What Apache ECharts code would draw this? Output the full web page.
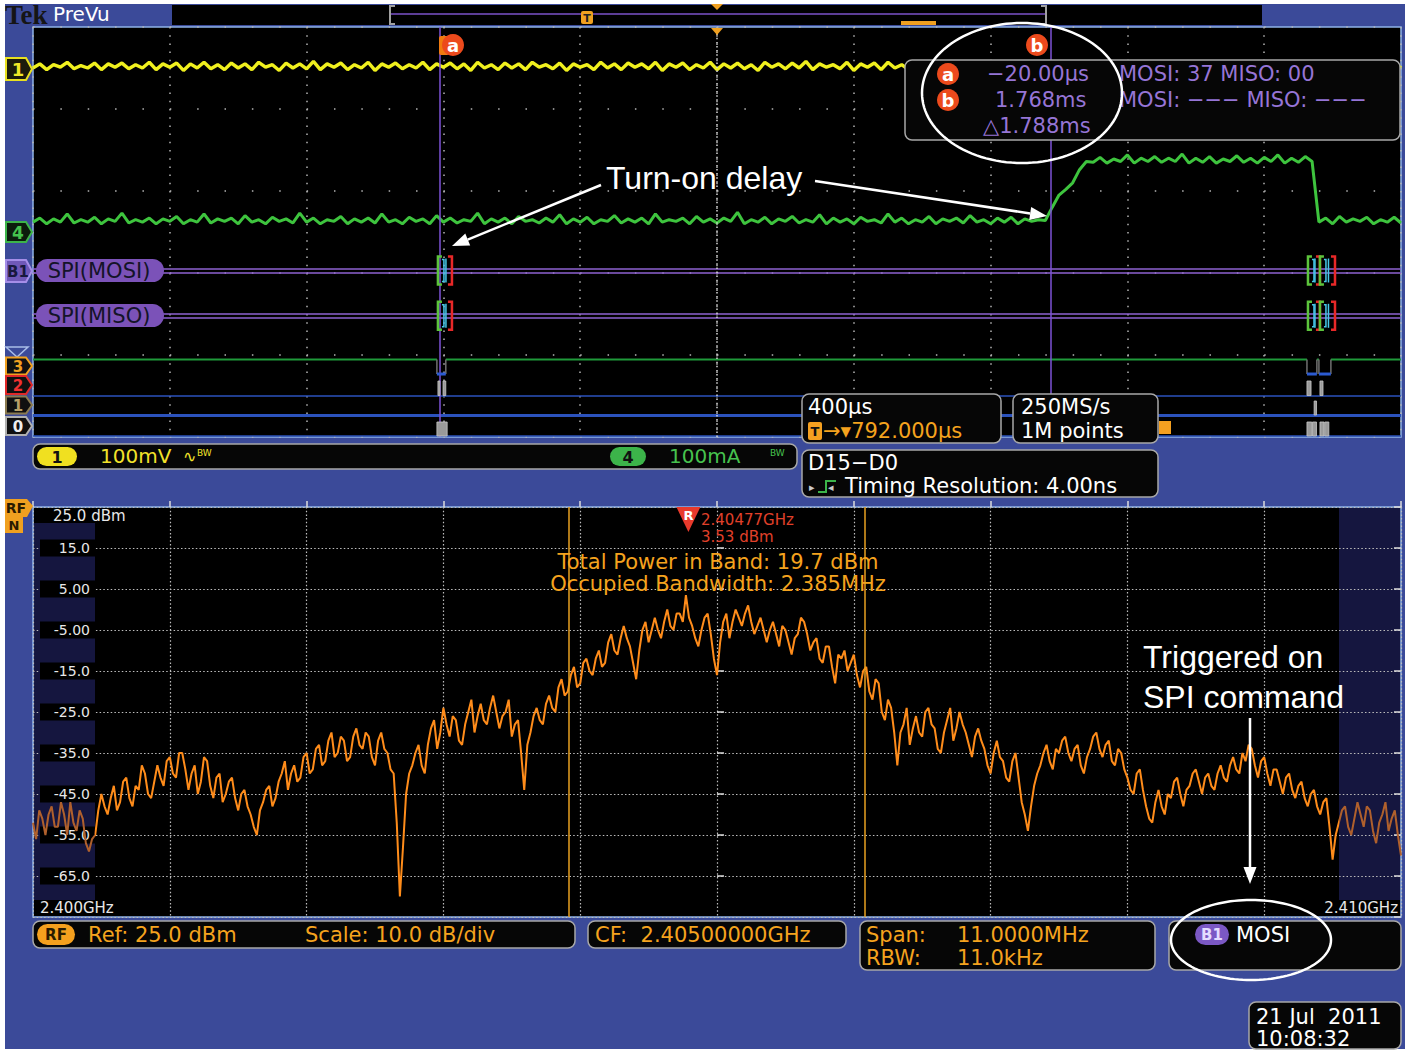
<!DOCTYPE html>
<html><head><meta charset="utf-8">
<script src="https://cdn.jsdelivr.net/npm/echarts@6/dist/echarts.min.js"></script>
<style>html,body{margin:0;padding:0;background:#fff;}#c{width:1411px;height:1052px;}</style>
</head><body><div id="c"></div><script>
// ---------------- DATA ----------------
const usPerDiv = 400;            // horizontal scale 400 µs/div
const screenStartUs = -1208;     // time at the left edge of the time-domain view
const sampleStepDiv = 0.05;      // trace sample spacing (divisions)
// Channel 1 (yellow), vertical position in divisions
const ch1Trace = [
4.50,4.55,4.48,4.54,4.51,4.57,4.49,4.53,4.50,4.56,
4.48,4.55,4.51,4.56,4.49,4.54,4.50,4.57,4.48,4.55,
4.51,4.56,4.47,4.55,4.50,4.57,4.49,4.54,4.48,4.56,
4.50,4.55,4.48,4.57,4.51,4.54,4.47,4.56,4.50,4.55,
4.49,4.58,4.48,4.55,4.51,4.56,4.48,4.54,4.50,4.57,
4.47,4.55,4.51,4.56,4.49,4.54,4.50,4.57,4.48,4.55,
4.51,4.56,4.49,4.55,4.47,4.57,4.50,4.54,4.48,4.56,
4.50,4.55,4.48,4.57,4.51,4.54,4.49,4.56,4.47,4.55,
4.51,4.54,4.48,4.57,4.50,4.55,4.48,4.56,4.51,4.55,
4.49,4.57,4.47,4.55,4.51,4.56,4.48,4.54,4.50,4.57,
4.48,4.55,4.50,4.56,4.49,4.54,4.47,4.57,4.51,4.55,
4.49,4.56,4.50,4.58,4.48,4.55,4.51,4.54,4.49,4.57,
4.47,4.55,4.51,4.56,4.48,4.57,4.50,4.54,4.48,4.56,
4.51,4.57,4.49,4.55,4.47,4.56,4.51,4.55,4.48,4.57,
4.50,4.55,4.48,4.56,4.51,4.54,4.49,4.57,4.47,4.55,
4.51,4.56,4.48,4.55,4.50,4.57,4.48,4.54,4.51,4.56,
4.49,4.55,4.47,4.57,4.51,4.55,4.48,4.56,4.50,4.54,
4.48,4.57,4.51,4.55,4.49,4.56,4.47,4.55,4.51,4.57,
4.48,4.54,4.50,4.56,4.48,4.57,4.51,4.55,4.49,4.56,
4.47,4.57,4.51,4.54,4.48,4.56,4.50,4.55,4.48,4.57,
4.50];
// Channel 4 (green, current), vertical position in divisions
const ch4Trace = [
2.62,2.67,2.60,2.66,2.62,2.72,2.61,2.65,2.62,2.68,
2.60,2.66,2.63,2.73,2.61,2.65,2.62,2.67,2.60,2.66,
2.63,2.69,2.60,2.65,2.62,2.72,2.61,2.66,2.63,2.67,
2.60,2.70,2.62,2.65,2.60,2.68,2.63,2.66,2.61,2.73,
2.62,2.67,2.60,2.65,2.63,2.69,2.60,2.66,2.62,2.67,
2.61,2.72,2.62,2.65,2.60,2.68,2.63,2.66,2.60,2.70,
2.62,2.67,2.61,2.65,2.63,2.73,2.60,2.66,2.62,2.67,
2.60,2.69,2.63,2.65,2.61,2.67,2.62,2.71,2.60,2.66,
2.62,2.68,2.60,2.65,2.63,2.70,2.61,2.66,2.62,2.67,
2.60,2.72,2.62,2.65,2.63,2.67,2.60,2.69,2.62,2.66,
2.61,2.67,2.63,2.74,2.60,2.65,2.62,2.68,2.60,2.66,
2.63,2.69,2.61,2.65,2.62,2.71,2.60,2.67,2.62,2.66,
2.60,2.68,2.63,2.65,2.61,2.72,2.62,2.67,2.60,2.65,
2.62,2.69,2.60,2.66,2.63,2.67,2.61,2.70,2.62,2.65,
2.60,2.67,2.62,2.68,2.60,2.66,2.63,2.65,
2.64,2.80,2.95,3.02,3.10,3.26,3.36,
3.35,3.41,3.34,3.39,3.36,3.44,3.34,3.40,3.36,3.42,
3.35,3.40,3.36,3.45,3.34,3.40,3.35,3.42,3.34,3.39,
3.36,3.43,3.35,3.40,3.34,3.41,3.36,3.44,3.34,3.40,
3.35,3.42,3.36,
2.62,2.67,2.60,2.69,2.62,2.66,2.63,2.68,2.60,2.65,2.62,2.68,2.61];
const cursorAUs = -20;
const cursorBUs = 1768;
// SPI bus double-line levels (divisions) and decoded packets (µs)
const mosiLevels = [2.055, 2.006];
const misoLevels = [1.502, 1.454];
const busPacketsUs = [[-24, 17], [2520, 2555], [2555, 2599]];
// digital channels (µs)
const d3LowPulsesUs = [[-27, -1], [2517, 2546], [2552, 2587]];
const d2HighPulsesUs = [[-24, -18], [-9, -1], [2517, 2529], [2555, 2564]];
const d1HighPulsesUs = [[2538, 2545]];
const d0HighPulsesUs = [[-27, 3], [2517, 2531], [2533, 2545], [2555, 2567], [2569, 2581]];
const digLevels = {d3High: 0.945, d3Low: 0.768, d2High: 0.683, d2Low: 0.506, d1High: 0.439, d1Low: 0.268, d0High: 0.183, d0Low: 0.012};

// Spectrum: offset from CF (MHz) and level (dBm)
const specStartMHz = -5.5;
const specStepMHz = 0.025;
const spectrumDbm = [
-52,-56,-49,-51,-55,-50,-48,-53,-53,-47,-50,-55,-47,-52,-54,-49,-51,-57,-59,-56,
-55,-49,-45,-48,-50,-46,-43,-49,-47,-42,-41,-46,-48,-43,-44,-38,-40,-45,-46,-42,
-38,-41,-43,-37,-36,-40,-41,-35,-35,-39,-44,-40,-38,-45,-42,-36,-37,-43,-46,-41,
-40,-47,-45,-42,-41,-46,-49,-45,-44,-48,-50,-53,-55,-49,-47,-44,-43,-48,-46,-42,
-40,-37,-44,-40,-38,-42,-41,-36,-35,-40,-39,-34,-33,-38,-37,-32,-30,-36,-35,-31,
-32,-37,-36,-31,-29,-33,-34,-30,-31,-36,-38,-32,-30,-34,-35,-39,-40,-52,-70,-58,
-45,-40,-38,-35,-33,-38,-40,-33,-29,-27,-34,-30,-24,-28,-31,-26,-27,-32,-33,-28,
-25,-22,-30,-26,-23,-27,-28,-24,-21,-25,-29,-26,-25,-22,-31,-28,-27,-35,-44,-33,
-30,-26,-24,-27,-28,-23,-21,-24,-25,-19,-17,-21,-20,-16,-14,-19,-18,-13,-12,-15,
-16,-12,-10,-14,-13,-8,-6,-10,-11,-7,-4,-7,-9,-13,-17,-10,-5,-3,-8,-5,
-2,-5,-7,-3,0,-4,-5,-1,-1,-3,3.53,-2,-4,-7,-9,-5,-2,-1,-6,-12,
-16,-8,-3,-1,-7,-3,0,-2,-4,-1,1,-3,-6,-4,-2,-5,-8,-5,-3,-6,
-9,-4,-5,-8,-11,-7,-6,-2,-3,-6,-10,-8,-7,-12,-13,-9,-9,-14,-18,-11,
-12,-10,-15,-13,-11,-16,-19,-15,-14,-20,-22,-17,-18,-25,-27,-22,-24,-30,-38,-30,
-28,-24,-33,-29,-26,-30,-31,-25,-24,-28,-29,-34,-35,-30,-27,-24,-32,-29,-25,-28,
-30,-33,-36,-31,-29,-32,-34,-38,-40,-35,-32,-36,-37,-41,-42,-37,-35,-41,-47,-50,
-54,-48,-43,-40,-38,-35,-33,-37,-39,-34,-35,-32,-31,-35,-37,-34,-33,-38,-40,-36,
-34,-31,-30,-34,-36,-33,-32,-37,-38,-34,-35,-39,-41,-44,-45,-40,-39,-44,-48,-51,
-52,-47,-44,-48,-50,-45,-46,-42,-41,-45,-48,-44,-43,-40,-39,-42,-45,-41,-40,-43,
-44,-40,-38,-41,-42,-38,-36,-39,-40,-35,-37,-33,-34,-38,-41,-37,-36,-40,-43,-39,
-39,-42,-45,-41,-40,-44,-46,-43,-42,-46,-48,-45,-44,-48,-50,-47,-46,-53,-61,-55,
-52,-49,-48,-53,-55,-51,-47,-50,-53,-48,-49,-54,-57,-52,-50,-47,-54,-51,-49,-55,
-60];
const refDbm = 25;
const dbmTickLabels = ['15.0','5.00','-5.00','-15.0','-25.0','-35.0','-45.0','-55.0','-65.0'];
const obwMHz = 2.385;
const markerOffsetMHz = -0.23;

// ---------------- HELPERS ----------------
const usToDiv = t => (t - screenStartUs) / usPerDiv;
const FONT = '"DejaVu Sans", sans-serif';
const HEL = '"Liberation Sans", Arial, sans-serif';
function T(x, y, text, color, size, o) {
  o = o || {};
  return {type:'text', x:x, y:y, z:o.z || 120, silent:true,
    style:{text:text, fill:color, font:(o.weight||'normal')+' '+size+'px '+(o.family||FONT),
      textAlign:o.align||'left', textVerticalAlign:'middle', align:o.align||'left', verticalAlign:'middle'}};
}
function box(x, y, w, h, z) {
  return {type:'rect', z:z||90, silent:true, shape:{x:x,y:y,width:w,height:h,r:7}, style:{fill:'#060606', stroke:'#a8a8a8', lineWidth:1.5}};
}
function pill(x, y, w, h, fill, label, tc, size) {
  return [{type:'rect', z:110, silent:true, shape:{x:x,y:y,width:w,height:h,r:h/2}, style:{fill:fill}},
    T(x+w/2, y+h/2+0.5, label, tc, size, {align:'center', weight:'bold', z:111})];
}
function ellipse(cx, cy, rx, ry) {
  const pts = [];
  for (let k = 0; k < 120; k++) { const a = k/120*2*Math.PI; pts.push([cx+rx*Math.cos(a), cy+ry*Math.sin(a)]); }
  return {type:'polygon', z:130, silent:true, shape:{points:pts}, style:{fill:null, stroke:'#fff', lineWidth:2.5}};
}
function arrow(x1, y1, x2, y2) {
  const a = Math.atan2(y2-y1, x2-x1), L = 17, W = 6.5;
  const bx = x2 - L*Math.cos(a), by = y2 - L*Math.sin(a);
  const px = -Math.sin(a)*W, py = Math.cos(a)*W;
  return [{type:'line', z:130, silent:true, shape:{x1:x1,y1:y1,x2:bx,y2:by}, style:{stroke:'#fff', lineWidth:2.5}},
    {type:'polygon', z:130, silent:true, shape:{points:[[x2,y2],[bx+px,by+py],[bx-px,by-py]]}, style:{fill:'#fff'}}];
}
function chLabel(y, h, text, stroke, fill, tc, size) {
  return [{type:'polygon', z:110, silent:true, shape:{points:[[6,y-h/2],[26,y-h/2],[32,y],[26,y+h/2],[6,y+h/2]]}, style:{fill:fill, stroke:stroke, lineWidth:2}},
    T(18, y+0.5, text, tc, size, {align:'center', weight:'bold', z:111})];
}
function cursorBadge(cx, cy, letter) {
  return [{type:'circle', z:115, silent:true, shape:{cx:cx, cy:cy, r:11}, style:{fill:'#ec4a1c'}},
    T(cx, cy, letter, '#fff', 18, {align:'center', weight:'bold', z:116})];
}

// ---------------- SERIES DATA ----------------
const ch1Data = ch1Trace.map((v, i) => [i*sampleStepDiv, v]);
const ch4Data = ch4Trace.map((v, i) => [i*sampleStepDiv, v]);
const busLines = [];
mosiLevels.concat(misoLevels).forEach(l => busLines.push({coords:[[0, l], [10, l]]}));
const busPackets = [];
busPacketsUs.forEach(p => {
  busPackets.push([usToDiv(p[0]), usToDiv(p[1]), (mosiLevels[0]+mosiLevels[1])/2]);
  busPackets.push([usToDiv(p[0]), usToDiv(p[1]), (misoLevels[0]+misoLevels[1])/2]);
});
const d3HighLine = [[0, digLevels.d3High]];
d3LowPulsesUs.forEach(p => { d3HighLine.push([usToDiv(p[0]), digLevels.d3High]); d3HighLine.push([usToDiv(p[0]), '-']); d3HighLine.push([usToDiv(p[1]), digLevels.d3High]); });
d3HighLine.push([10, digLevels.d3High]);
const digItems = [];
d3LowPulsesUs.forEach(p => digItems.push([usToDiv(p[0]), usToDiv(p[1]), 0]));
d2HighPulsesUs.forEach(p => digItems.push([usToDiv(p[0]), usToDiv(p[1]), 1]));
d1HighPulsesUs.forEach(p => digItems.push([usToDiv(p[0]), usToDiv(p[1]), 2]));
d0HighPulsesUs.forEach(p => digItems.push([usToDiv(p[0]), usToDiv(p[1]), 3]));
const digLowLines = [
  {coords:[[0, digLevels.d2Low],[10, digLevels.d2Low]], lineStyle:{width:1.5}},
  {coords:[[0, digLevels.d1Low],[10, digLevels.d1Low]], lineStyle:{width:3}},
  {coords:[[0, digLevels.d0Low],[10, digLevels.d0Low]], lineStyle:{width:1.5}}
];
const specData = spectrumDbm.map((v, i) => [specStartMHz + i*specStepMHz, refDbm - v]);

// ---------------- GRAPHICS ----------------
const G = [];
G.push({type:'rect', z:-30, silent:true, shape:{x:5,y:4,width:1400,height:1045}, style:{fill:'#3b4a99'}});
G.push({type:'rect', z:-25, silent:true, shape:{x:172,y:5,width:1090,height:20}, style:{fill:'#000'}});
G.push({type:'rect', z:-20, silent:true, shape:{x:33,y:27,width:1368,height:410}, style:{fill:'#000'}});
G.push({type:'rect', z:-20, silent:true, shape:{x:33,y:507,width:1368,height:410}, style:{fill:'#000'}});
G.push({type:'rect', z:-15, silent:true, shape:{x:33,y:507,width:62,height:410}, style:{fill:'#15163f'}});
G.push({type:'rect', z:-15, silent:true, shape:{x:1339,y:507,width:62,height:410}, style:{fill:'#15163f'}});
// top bar
G.push(T(5, 15, 'Tek', '#151515', 27, {family:'"Liberation Serif", serif', weight:'bold'}));
G.push(T(53, 14, 'PreVu', '#ffffff', 20));
G.push({type:'line', z:100, silent:true, shape:{x1:390,y1:14,x2:1046,y2:14}, style:{stroke:'#7b52c8', lineWidth:1.5}});
G.push({type:'polyline', z:100, silent:true, shape:{points:[[395,6],[390,6],[390,24],[395,24]]}, style:{fill:null, stroke:'#a0a0a0', lineWidth:2}});
G.push({type:'polyline', z:100, silent:true, shape:{points:[[1041,6],[1046,6],[1046,24],[1041,24]]}, style:{fill:null, stroke:'#a0a0a0', lineWidth:2}});
G.push({type:'rect', z:101, silent:true, shape:{x:581,y:11,width:12,height:13,r:2}, style:{fill:'#f0a020'}});
G.push(T(587, 18, 'T', '#222', 11, {align:'center', weight:'bold', z:102}));
G.push({type:'polygon', z:101, silent:true, shape:{points:[[711,4],[723,4],[717,10]]}, style:{fill:'#f0a020'}});
G.push({type:'rect', z:101, silent:true, shape:{x:901,y:21,width:35,height:4}, style:{fill:'#f0a020'}});
// trigger marker on plot top
G.push({type:'polygon', z:101, silent:true, shape:{points:[[711,28],[723,28],[717,35]]}, style:{fill:'#f0a020'}});
// cursor badges
G.push({type:'rect', z:114, silent:true, shape:{x:439,y:36,width:10,height:19,r:2}, style:{fill:'#f07a10'}});
G.push(...cursorBadge(453, 45, 'a'));
G.push(...cursorBadge(1037, 45, 'b'));
// left channel labels
G.push(...chLabel(69, 22, '1', '#e8e020', '#1c1c0c', '#f0e828', 18));
G.push(...chLabel(232, 20, '4', '#3cb44a', '#0c1c0c', '#46c24e', 17));
G.push(...chLabel(271, 22, 'B1', '#a58ee8', '#6f58b8', '#18183e', 15));
G.push({type:'polygon', z:110, silent:true, shape:{points:[[6,347],[28,347],[17,357]]}, style:{fill:null, stroke:'#a9bde8', lineWidth:1.5}});
G.push(...chLabel(366, 17, '3', '#f0a020', '#101010', '#f0a020', 15));
G.push(...chLabel(385, 18, '2', '#e02828', '#101010', '#f03030', 15));
G.push(...chLabel(405, 17, '1', '#8a7a50', '#101010', '#b8a068', 15));
G.push(...chLabel(426, 18, '0', '#b0b0b0', '#101010', '#eeeeee', 15));
// SPI labels
G.push({type:'rect', z:105, silent:true, shape:{x:36,y:259,width:128,height:23,r:11.5}, style:{fill:'#7b52b8'}});
G.push(T(99, 271, 'SPI(MOSI)', '#141428', 21, {align:'center', z:106}));
G.push({type:'rect', z:105, silent:true, shape:{x:36,y:304,width:128,height:23,r:11.5}, style:{fill:'#7b52b8'}});
G.push(T(99, 316, 'SPI(MISO)', '#141428', 21, {align:'center', z:106}));
// readout box top right
G.push(box(905, 60, 495, 80));
G.push(...cursorBadge(948, 74, 'a'));
G.push(...cursorBadge(948, 100, 'b'));
G.push(T(987, 74, '\u221220.00\u00b5s', '#9675d6', 21));
G.push(T(995, 100, '1.768ms', '#9675d6', 21));
G.push(T(983, 126, '\u25b31.788ms', '#9675d6', 21));
G.push(T(1119, 74, 'MOSI: 37 MISO: 00', '#9675d6', 21));
G.push(T(1119, 100, 'MOSI: \u2212\u2212\u2212 MISO: \u2212\u2212\u2212', '#9675d6', 21));
G.push(ellipse(1022, 93, 100, 70));
// annotation turn-on
G.push(T(606, 178, 'Turn-on delay', '#ffffff', 32, {family:HEL}));
G.push(...arrow(601, 185, 452, 246));
G.push(...arrow(815, 181, 1047, 216));
// status bar under top plot
G.push(box(33, 444, 764, 25));
G.push(...pill(37, 447, 40, 19, '#f0e020', '1', '#111', 16));
G.push(T(100, 456, '100mV', '#f2e22a', 20));
G.push(T(183, 456, '\u223f', '#f2e22a', 16));
G.push(T(197, 453, 'BW', '#f2e22a', 9));
G.push(...pill(610, 447, 36, 19, '#3cb44a', '4', '#111', 16));
G.push(T(669, 456, '100mA', '#46c24e', 20));
G.push(T(770, 453, 'BW', '#46c24e', 9));
G.push(box(802, 394, 199, 49));
G.push(T(808, 407, '400\u00b5s', '#ffffff', 21));
G.push({type:'rect', z:110, silent:true, shape:{x:808,y:422,width:14,height:18,r:2}, style:{fill:'#f5a020'}});
G.push(T(815, 431, 'T', '#111', 13, {align:'center', weight:'bold', z:111}));
G.push(T(823, 431, '\u2192\u25be792.000\u00b5s', '#f5a31e', 21));
G.push(box(1013, 394, 145, 49));
G.push(T(1021, 407, '250MS/s', '#ffffff', 21));
G.push(T(1021, 431, '1M points', '#ffffff', 21));
G.push({type:'rect', z:100, silent:true, shape:{x:1159,y:421,width:12,height:13}, style:{fill:'#f5a020'}});
G.push(box(802, 450, 356, 47));
G.push(T(808, 463, 'D15\u2212D0', '#ffffff', 21));
G.push({type:'polyline', z:110, silent:true, shape:{points:[[818,492],[826,492],[826,481],[836,481]]}, style:{fill:null, stroke:'#3cb44a', lineWidth:2}});
G.push(T(809, 487, '\u25b8', '#cccccc', 11));
G.push(T(828, 487, '\u25c2', '#cccccc', 11));
G.push(T(845, 486, 'Timing Resolution: 4.00ns', '#ffffff', 21));
// spectrum panel labels
G.push({type:'polygon', z:110, silent:true, shape:{points:[[5,499],[27,499],[33,506],[27,517],[5,517]]}, style:{fill:'#f0a020'}});
G.push(T(16, 508, 'RF', '#2a1a00', 14, {align:'center', weight:'bold', z:111}));
G.push({type:'rect', z:110, silent:true, shape:{x:5,y:517,width:18,height:16}, style:{fill:'#f0a020'}});
G.push(T(14, 525, 'N', '#2a1a00', 13, {align:'center', weight:'bold', z:111}));
G.push({type:'rect', z:5, silent:true, shape:{x:34,y:508,width:91,height:15}, style:{fill:'#000'}});
G.push(T(53, 516, '25.0 dBm', '#e8e8e8', 15, {z:6}));
G.push({type:'rect', z:5, silent:true, shape:{x:34,y:900,width:86,height:16}, style:{fill:'#000'}});
G.push(T(40, 908, '2.400GHz', '#e8e8e8', 15, {z:6}));
G.push({type:'rect', z:5, silent:true, shape:{x:1318,y:900,width:82,height:16}, style:{fill:'#000'}});
G.push(T(1398, 908, '2.410GHz', '#e8e8e8', 15, {align:'right', z:6}));
G.push(T(701, 520, '2.40477GHz', '#e0402a', 15));
G.push(T(701, 537, '3.53 dBm', '#e0402a', 15));
G.push(T(718, 562, 'Total Power in Band: 19.7 dBm', '#f5a31e', 21, {align:'center'}));
G.push(T(718, 584, 'Occupied Bandwidth: 2.385MHz', '#f5a31e', 21, {align:'center'}));
G.push(T(1143, 657, 'Triggered on', '#ffffff', 32, {family:HEL}));
G.push(T(1143, 697, 'SPI command', '#ffffff', 32, {family:HEL}));
G.push(...arrow(1250, 718, 1250, 884));
// bottom readouts
G.push(box(33, 921, 542, 27));
G.push(...pill(37, 924, 38, 21, '#f5a01e', 'RF', '#2a1a00', 15));
G.push(T(88, 935, 'Ref: 25.0 dBm', '#f5a31e', 21));
G.push(T(305, 935, 'Scale: 10.0 dB/div', '#f5a31e', 21));
G.push(box(588, 921, 258, 27));
G.push(T(595, 935, 'CF:\u00a0\u00a02.40500000GHz', '#f5a31e', 21));
G.push(box(860, 921, 295, 49));
G.push(T(866, 935, 'Span:', '#f5a31e', 21));
G.push(T(957, 935, '11.0000MHz', '#f5a31e', 21));
G.push(T(866, 958, 'RBW:', '#f5a31e', 21));
G.push(T(957, 958, '11.0kHz', '#f5a31e', 21));
G.push(box(1169, 921, 232, 49));
G.push(...pill(1195, 924, 34, 21, '#7b58c4', 'B1', '#e4dcff', 15));
G.push(T(1236, 935, 'MOSI', '#ffffff', 21));
G.push(ellipse(1251, 940, 80, 40));
G.push(box(1249, 1002, 152, 47));
G.push(T(1256, 1017, '21 Jul\u00a0\u00a02011', '#ffffff', 21));
G.push(T(1256, 1039, '10:08:32', '#ffffff', 21));

// ---------------- OPTION ----------------
const gridLineTop = {color:'#b4b4b4', width:1.5};
const option = {
  animation: false,
  backgroundColor: 'transparent',
  grid: [
    {left:33, top:27, width:1368, height:410, show:true, borderColor:'#8fb3e8', borderWidth:1.5, backgroundColor:'transparent'},
    {left:33, top:507, width:1368, height:410, show:true, borderColor:'#8fb3e8', borderWidth:1.5, backgroundColor:'transparent'}
  ],
  xAxis: [
    {gridIndex:0, type:'value', min:0, max:10, interval:1, axisLine:{show:false}, axisTick:{show:false}, axisLabel:{show:false},
     splitLine:{show:true, lineStyle:Object.assign({type:[1.5,6.7]}, gridLineTop)}},
    {gridIndex:1, type:'value', min:-5.5, max:5.5, interval:1.1, axisLine:{show:false}, axisLabel:{show:false},
     axisTick:{show:true, inside:true, length:6, lineStyle:{color:'#dddddd', width:1.5}},
     splitLine:{show:true, lineStyle:{color:'#bdbdbd', width:1.2, type:[1.5,2.2]}}}
  ],
  yAxis: [
    {gridIndex:0, type:'value', min:0, max:5, interval:1, axisLine:{show:false}, axisTick:{show:false}, axisLabel:{show:false},
     splitLine:{show:true, lineStyle:Object.assign({type:[1.5,25.86]}, gridLineTop)}},
    {gridIndex:1, type:'value', min:0, max:100, interval:10, inverse:true, axisLine:{show:false},
     axisTick:{show:true, inside:true, length:7, lineStyle:{color:'#dddddd', width:1.5}},
     axisLabel:{show:true, showMinLabel:false, showMaxLabel:false, margin:-62, align:'right', width:48,
       backgroundColor:'#000', padding:[2,5,1,2], color:'#e8e8e8', fontSize:14, fontFamily:'DejaVu Sans',
       formatter: v => { const k = Math.round(v/10) - 1; return (k >= 0 && k < dbmTickLabels.length) ? dbmTickLabels[k] : ''; }},
     splitLine:{show:true, lineStyle:{color:'#bdbdbd', width:1.2, type:[1.5,2.2]}}},
    {gridIndex:1, type:'value', position:'right', min:0, max:100, interval:10, inverse:true, axisLine:{show:false},
     axisTick:{show:true, inside:true, length:7, lineStyle:{color:'#dddddd', width:1.5}}, axisLabel:{show:false}, splitLine:{show:false}}
  ],
  visualMap: [{type:'piecewise', show:false, seriesIndex:7, dimension:0,
    pieces:[{lt:-5, color:'#b0602c'}, {gte:-5, lte:5, color:'#ff8c1a'}, {gt:5, color:'#b0602c'}]}],
  graphic: {elements: G},
  series: [
    {name:'ch1', type:'line', xAxisIndex:0, yAxisIndex:0, data:ch1Data, symbol:'none', z:4,
     lineStyle:{color:'#f0f01e', width:3.4}, itemStyle:{color:'#f0f01e'},
     markLine:{silent:true, symbol:'none', label:{show:false}, animation:false, data:[
       {xAxis:usToDiv(cursorAUs), lineStyle:{color:'#7c52d6', width:1.5, type:'solid'}},
       {xAxis:usToDiv(cursorBUs), lineStyle:{color:'#7c52d6', width:1.5, type:'solid'}},
       {xAxis:5, lineStyle:{color:'#d8d8d8', width:1.5, type:[1.5,2.6]}}
     ]}},
    {name:'ch4', type:'line', xAxisIndex:0, yAxisIndex:0, data:ch4Data, symbol:'none', z:4,
     lineStyle:{color:'#3ec43e', width:3}, itemStyle:{color:'#3ec43e'}},
    {name:'bus', type:'lines', coordinateSystem:'cartesian2d', xAxisIndex:0, yAxisIndex:0, z:3, silent:true,
     lineStyle:{color:'#8e62d0', width:1.5, opacity:1}, data:busLines},
    {name:'packets', type:'custom', xAxisIndex:0, yAxisIndex:0, z:5, silent:true, data:busPackets,
     renderItem:(params, api) => {
       const p0 = api.coord([api.value(0), api.value(2)]), p1 = api.coord([api.value(1), api.value(2)]);
       const x0 = p0[0], x1 = p1[0], y = p0[1], h = 14, xm = (x0+x1)/2;
       return {type:'group', children:[
         {type:'polyline', shape:{points:[[x0+4,y-h],[x0,y-h],[x0,y+h],[x0+4,y+h]]}, style:{stroke:'#5cc43c', lineWidth:2.5, fill:null}},
         {type:'polyline', shape:{points:[[x0+4,y-h+3],[x0+6,y-h+3],[x0+6,y+h-3],[x0+4,y+h-3]]}, style:{stroke:'#46c8e8', lineWidth:1.5, fill:null}},
         {type:'line', shape:{x1:xm+1, y1:y-h+2, x2:xm+1, y2:y+h-2}, style:{stroke:'#46c8e8', lineWidth:1.5}},
         {type:'polyline', shape:{points:[[x1-4,y-h],[x1,y-h],[x1,y+h],[x1-4,y+h]]}, style:{stroke:'#e82828', lineWidth:2.5, fill:null}}
       ]};
     }},
    {name:'d3', type:'line', xAxisIndex:0, yAxisIndex:0, data:d3HighLine, symbol:'none', z:3, connectNulls:false,
     lineStyle:{color:'#1f9a3a', width:2}, itemStyle:{color:'#1f9a3a'}},
    {name:'dlow', type:'lines', coordinateSystem:'cartesian2d', xAxisIndex:0, yAxisIndex:0, z:3, silent:true,
     lineStyle:{color:'#2b52bc', width:1.5, opacity:1}, data:digLowLines},
    {name:'digital', type:'custom', xAxisIndex:0, yAxisIndex:0, z:5, silent:true, data:digItems,
     renderItem:(params, api) => {
       const k = api.value(2);
       const lv = [[digLevels.d3High, digLevels.d3Low], [digLevels.d2High, digLevels.d2Low], [digLevels.d1High, digLevels.d1Low], [digLevels.d0High, digLevels.d0Low]][k];
       const a = api.coord([api.value(0), lv[0]]), b = api.coord([api.value(1), lv[1]]);
       if (k === 0) {
         return {type:'group', children:[
           {type:'line', shape:{x1:a[0],y1:a[1],x2:a[0],y2:b[1]}, style:{stroke:'#707070', lineWidth:1.5}},
           {type:'line', shape:{x1:b[0],y1:a[1],x2:b[0],y2:b[1]}, style:{stroke:'#707070', lineWidth:1.5}},
           {type:'line', shape:{x1:a[0],y1:b[1],x2:b[0],y2:b[1]}, style:{stroke:'#2b5ad0', lineWidth:3}}
         ]};
       }
       return {type:'rect', shape:{x:a[0], y:a[1], width:Math.max(2, b[0]-a[0]), height:b[1]-a[1]}, style:{fill:'#9a9a9a', stroke:'#c8c8c8', lineWidth:0.8}};
     }},
    {name:'spectrum', type:'line', xAxisIndex:1, yAxisIndex:1, data:specData, symbol:'none', z:4,
     lineStyle:{width:2},
     markLine:{silent:true, symbol:'none', label:{show:false}, animation:false,
       lineStyle:{color:'#e8a020', width:1.5, type:'solid'},
       data:[{xAxis:-obwMHz/2}, {xAxis:obwMHz/2}]},
     markPoint:{silent:true, animation:false, data:[{coord:[markerOffsetMHz, 0], symbol:'triangle', symbolRotate:180,
       symbolSize:[24,25], symbolOffset:[0,12.5], itemStyle:{color:'#e83a2c'},
       label:{show:true, position:'inside', formatter:'R', color:'#ffffff', fontSize:13, fontWeight:'bold', offset:[0,-4], fontFamily:'DejaVu Sans'}}]}}
  ]
};
const chart = echarts.init(document.getElementById('c'), null, {renderer:'svg', width:1411, height:1052});
chart.setOption(option);
</script></body></html>
